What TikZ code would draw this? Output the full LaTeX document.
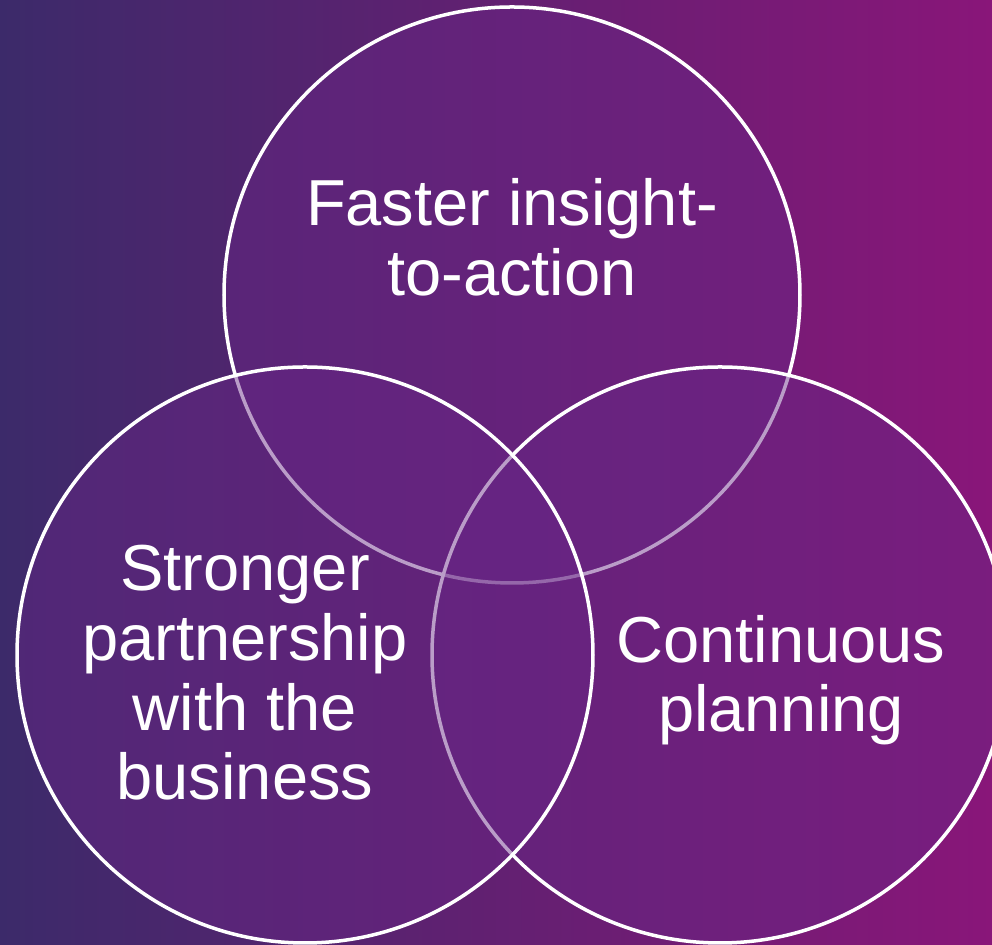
\documentclass[tikz,border=0pt]{standalone}
\usepackage{fontspec}
\setmainfont{Liberation Sans}
\usepackage{tikz}
\usetikzlibrary{positioning}
\definecolor{bgleft}{RGB}{60,42,106}
\definecolor{bgmid}{RGB}{100,40,130}
\definecolor{bgright}{RGB}{137,22,121}
\definecolor{bubblefill}{RGB}{104,38,134}
\newcommand{\bubblefont}{\fontsize{18.5}{19.8}\selectfont}
\begin{document}
\begin{tikzpicture}[every node/.style={},
    bubble/.style={circle,draw=white,line width=0.035cm,fill=bubblefill,
      fill opacity=0.45,draw opacity=1,minimum size=5.76cm,inner sep=0pt,outer sep=0pt},
    bubbletext/.style={text=white,align=center,font=\bubblefont,inner sep=0pt}]
          \useasboundingbox (0,0) rectangle (9.92,-9.45);
          \clip (0,0) rectangle (9.92,-9.45);
          \shade[left color=bgleft,middle color=bgmid,right color=bgright]
          (0,0) rectangle (9.92,-9.45);
          % top first, then right, then left on top
          \node[bubble] (insight) at (5.12,-2.95) {}; \node[bubble]
          (planning) at (7.20,-6.55) {}; \node[bubble] (partner) at
          (3.05,-6.55) {};
          \node[bubbletext] (insighttext) at (5.12,-2.37) {Faster
          insight-\\to-action}; \node[bubbletext] (partnertext) at
          (2.45,-6.73) {Stronger\\partnership\\with the\\business};
          \node[bubbletext] (planningtext) at (7.81,-6.80)
          {Continuous\\planning};
        \end{tikzpicture}
\end{document}
